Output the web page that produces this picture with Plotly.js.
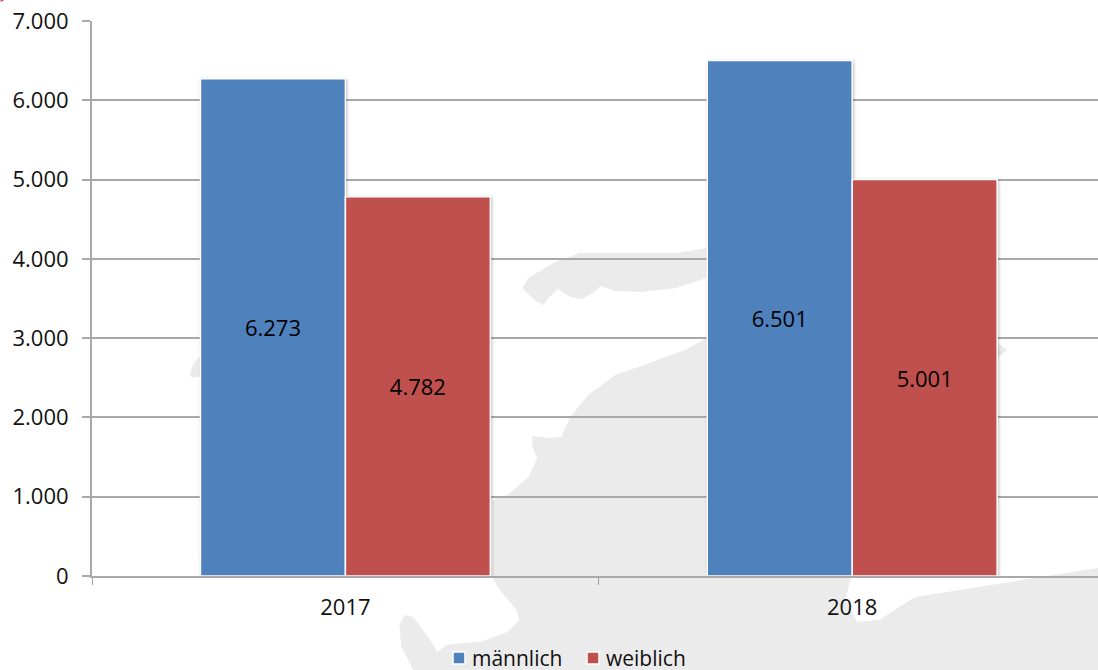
<!DOCTYPE html>
<html>
<head>
<meta charset="utf-8">
<script src="https://cdn.plot.ly/plotly-3.0.1.min.js"></script>
<style>html,body{margin:0;padding:0;background:#fff;overflow:hidden}#chart{width:1098px;height:670px}
.bars .point path{filter:drop-shadow(1px 1px 1.5px rgba(0,0,0,.25))}</style>
</head>
<body>
<div id="chart"></div>
<script>
const categories = ["2017", "2018"];
const maennlich = [6273, 6501];
const weiblich = [4782, 5001];
const seriesNames = ["männlich", "weiblich"];
const yTicks = [0, 1000, 2000, 3000, 4000, 5000, 6000, 7000];

const W = 1098, H = 670, L = 91.5, T = 21, B = 94;
const px = x => (x - L) / (W - L);
const py = y => (H - B - y) / (H - B - T);
const toPath = pts => "M" + pts.map(p => px(p[0]).toFixed(4) + "," + py(p[1]).toFixed(4)).join("L") + "Z";

// Faint map watermark behind the chart (page-pixel outline)
const wmIsland = [[706,248],[676,253],[579,253],[555,262],[528,278],[522,288],[534,300],[543,305],[549,297],[558,289],[570,297],[582,299],[594,292],[600,286],[615,291],[640,292],[676,288],[706,278]];
const wmLeft = [[201,355],[193,363],[189,375],[193,378],[201,376]];
const wmMain = [[706,338],[685,350],[652,362],[615,375],[588,395],[570,417],[561,437],[549,438],[532,436],[532,447],[537,458],[528,477],[507,495],[492,500],[492,578],[498,588],[516,610],[519,620],[507,632],[480,642],[464,643],[446,645],[437,652],[428,637],[413,617],[404,615],[399,625],[401,647],[413,670],[1098,670],[1098,568],[915,597],[879,620],[857,622],[845,600],[851,578],[950,400],[999,357],[1007,350],[1000,345],[720,325]];
const corner = [[0,0],[4,0],[0,2]];
const wmShape = pts => ({type:"path", xref:"paper", yref:"paper", layer:"below", path:toPath(pts), fillcolor:"#ebebeb", line:{width:0}});

const font = {family:"'Open Sans', sans-serif", size:22, color:"#111"};
const legendFont = {family:"'Open Sans', sans-serif", size:21, color:"#111"};
const bar = (name, y, color) => ({
  type:"bar", name, x:categories, y,
  marker:{color, line:{color:"#fff", width:1.5}},
  texttemplate:"%{y:,d}", textposition:"inside", insidetextanchor:"middle", textangle:0,
  textfont:{family:font.family, size:22, color:"#000"}, cliponaxis:true, hoverinfo:"skip"
});

Plotly.newPlot("chart", [
  bar(seriesNames[0], maennlich, "#4f81bd"),
  bar(seriesNames[1], weiblich, "#c0504d")
], {
  width:W, height:H, autosize:false,
  margin:{l:L, r:0, t:T, b:B, pad:0},
  paper_bgcolor:"rgba(0,0,0,0)", plot_bgcolor:"rgba(0,0,0,0)",
  separators:",.", font,
  barmode:"group", bargap:0.428, bargroupgap:0,
  xaxis:{type:"category", range:[-0.5, 1.485], tickson:"boundaries", ticks:"outside", ticklen:7, tickwidth:1, tickcolor:"#a0a0a0", ticklabelstandoff:11,
    showline:true, linecolor:"#a9a9a9", linewidth:2, showgrid:false, zeroline:false, fixedrange:true, tickfont:font},
  yaxis:{range:[0,7000], tickvals:yTicks, tickformat:",d", ticks:"outside", ticklen:8, tickwidth:2, tickcolor:"#a9a9a9", ticklabelstandoff:9,
    showline:true, linecolor:"#a9a9a9", linewidth:2, showgrid:true, gridcolor:"#a9a9a9", gridwidth:2, zeroline:false, fixedrange:true, tickfont:font},
  showlegend:true,
  legend:{orientation:"h", x:0.353, xanchor:"left", y:-0.05, yanchor:"top", bgcolor:"rgba(0,0,0,0)", font:legendFont, itemwidth:30, traceorder:"normal"},
  shapes:[wmShape(wmIsland), wmShape(wmLeft), wmShape(wmMain),
    {type:"path", xref:"paper", yref:"paper", layer:"below", path:toPath(corner), fillcolor:"#d0456a", line:{width:0}}]
}, {displayModeBar:false, staticPlot:true}).then(gd => {
  // Place the legend where the reference has it (tighter swatch/text spacing, low on the page)
  const legend = gd.querySelector(".legend");
  legend.setAttribute("transform", "translate(432,648)");
  const clip = legend.querySelector(".scrollbox");
  if (clip) clip.removeAttribute("clip-path");
  legend.querySelectorAll(".traces").forEach((t, i) => {
    t.setAttribute("transform", `translate(${i * 134},10)`);
    const s = t.querySelector(".legendsymbols");
    if (s) s.setAttribute("transform", "translate(7,0)");
  });
});
</script>
</body>
</html>
